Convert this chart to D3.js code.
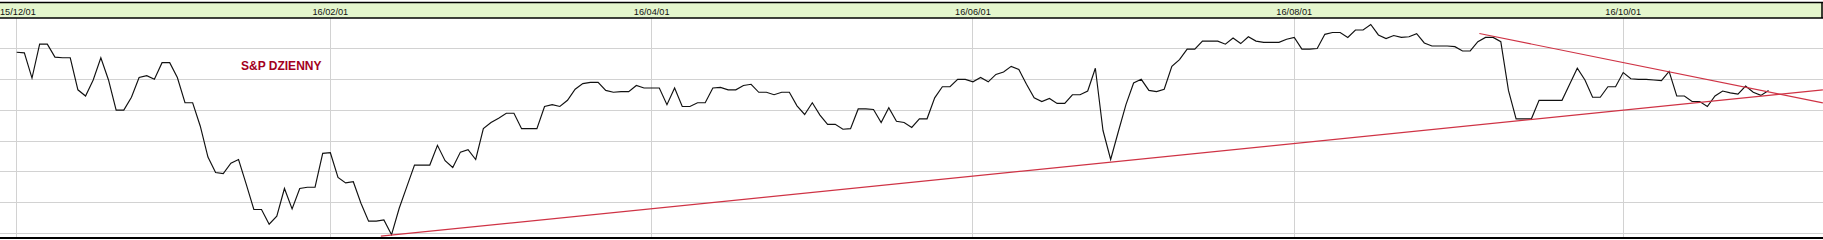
<!DOCTYPE html>
<html>
<head>
<meta charset="utf-8">
<script src="https://cdn.jsdelivr.net/npm/d3@7"></script>
<style>
body { margin: 0; background: #fff; }
svg { display: block; }
</style>
</head>
<body>
<svg id="chart"></svg>
<script>
// daily closes, one per trading day from 2015-12-01
const closes = [
2144,2143,2102,2157,2157,2136,2135,2135,2083,2073,
2099,2135,2099,2050,2050,2071,2103,2106,2100,2127,
2127,2103,2062,2062,2024,1974,1949,1947,1964,1970,
1930,1889,1889,1865,1878,1923,1890,1923,1925,1925,
1980,1981,1941,1932,1934,1899,1870,1870,1872,1848,
1891,1926,1961,1961,1961,1993,1968,1957,1982,1986,
1970,2020,2030,2037,2045,2045,2020,2020,2020,2056,
2059,2056,2066,2084,2093,2095,2095,2082,2079,2080,
2080,2090,2086,2086,2086,2059,2086,2056,2056,2062,
2062,2086,2087,2083,2083,2090,2092,2079,2079,2075,
2079,2079,2057,2043,2062,2042,2027,2027,2019,2020,
2052,2052,2051,2030,2054,2032,2030,2022,2036,2036,
2070,2088,2088,2100,2100,2096,2103,2096,2108,2112,
2121,2116,2092,2070,2064,2069,2061,2061,2075,2075,
2081,2118,2017,1970,2015,2059,2094,2100,2082,2080,
2084,2121,2132,2149,2149,2162,2162,2162,2157,2167,
2158,2169,2162,2160,2160,2160,2165,2168,2149,2149,
2150,2173,2176,2176,2168,2180,2180,2189,2172,2166,
2171,2168,2169,2174,2159,2154,2154,2154,2153,2146,
2146,2161,2168,2168,2161,2082,2036,2036,2036,2066,
2066,2066,2066,2092,2118,2099,2071,2071,2088,2088,
2111,2101,2100,2100,2099,2098,2113,2073,2073,2064,
2064,2056,2073,2081,2078,2076,2089,2079,2074,2082
];

const tickIndex = [0, 41, 83, 125, 167, 210];
const tickLabels = ["15/12/01", "16/02/01", "16/04/01", "16/06/01", "16/08/01", "16/10/01"];
const gridValues = [1850, 1900, 1950, 2000, 2050, 2100, 2150];

// trend lines: [day index, level]
const supportLine = [[47.6, 1845.6], [236.1, 2083]];
const resistLine = [[191.2, 2174.3], [236.1, 2061.8]];

const W = 1823, H = 240;
const headTop = 2.5, headBottom = 18, plotBottom = 238;

const svg = d3.select("#chart")
    .attr("width", W)
    .attr("height", H);

const x = d3.scaleLinear().domain([0, 236]).range([16.7, 16.7 + 236 * 7.65]);
const y = d3.scaleLinear().domain([1850, 2150]).range([233.5, 48.5]);

// header band
svg.append("rect")
    .attr("x", 0).attr("y", headTop)
    .attr("width", W).attr("height", headBottom - headTop)
    .style("fill", "#e4f6cd");

// grid
svg.append("g").selectAll("line")
    .data(gridValues)
    .enter()
    .append("line")
    .attr("x1", 0).attr("x2", W)
    .attr("y1", d => y(d)).attr("y2", d => y(d))
    .style("stroke", "#d2d2d2")
    .style("shape-rendering", "crispEdges");

svg.append("g").selectAll("line")
    .data(tickIndex)
    .enter()
    .append("line")
    .attr("x1", d => x(d)).attr("x2", d => x(d))
    .attr("y1", headBottom).attr("y2", plotBottom)
    .style("stroke", "#d2d2d2")
    .style("shape-rendering", "crispEdges");

// date labels in the header (first one held inside the left edge)
svg.append("g").selectAll("text")
    .data(tickIndex)
    .enter()
    .append("text")
    .attr("x", (d, i) => i === 0 ? 0 : x(d))
    .attr("y", 15)
    .attr("text-anchor", (d, i) => i === 0 ? "start" : "middle")
    .style("font-family", "'Liberation Sans', Arial, sans-serif")
    .style("font-size", "9.2px")
    .style("fill", "#111")
    .text((d, i) => tickLabels[i]);

// frame lines
svg.append("line")
    .attr("x1", 0).attr("x2", W).attr("y1", headTop).attr("y2", headTop)
    .style("stroke", "#000").style("stroke-width", 1.6);
svg.append("line")
    .attr("x1", 0).attr("x2", W).attr("y1", headBottom).attr("y2", headBottom)
    .style("stroke", "#000").style("stroke-width", 1.6);
svg.append("line")
    .attr("x1", W - 1).attr("x2", W - 1).attr("y1", headTop).attr("y2", headBottom)
    .style("stroke", "#000").style("stroke-width", 1.5);
svg.append("line")
    .attr("x1", 0).attr("x2", W).attr("y1", plotBottom).attr("y2", plotBottom)
    .style("stroke", "#000").style("stroke-width", 2);

// price line
const line = d3.line()
    .x((d, i) => x(i))
    .y(d => y(d));

svg.append("path")
    .datum(closes)
    .attr("d", line)
    .style("fill", "none")
    .style("stroke", "#111")
    .style("stroke-width", 1.15);

// trend lines
const trend = d3.line()
    .x(d => x(d[0]))
    .y(d => y(d[1]));

[supportLine, resistLine].forEach(function (pts) {
    svg.append("path")
        .datum(pts)
        .attr("d", trend)
        .style("fill", "none")
        .style("stroke", "#cf3345")
        .style("stroke-width", 1.2);
});

svg.append("text")
    .attr("x", 241)
    .attr("y", 69.5)
    .style("font-family", "'Liberation Sans', Arial, sans-serif")
    .style("font-size", "12px")
    .style("font-weight", "bold")
    .style("fill", "#a3001c")
    .text("S&P DZIENNY");
</script>
</body>
</html>
